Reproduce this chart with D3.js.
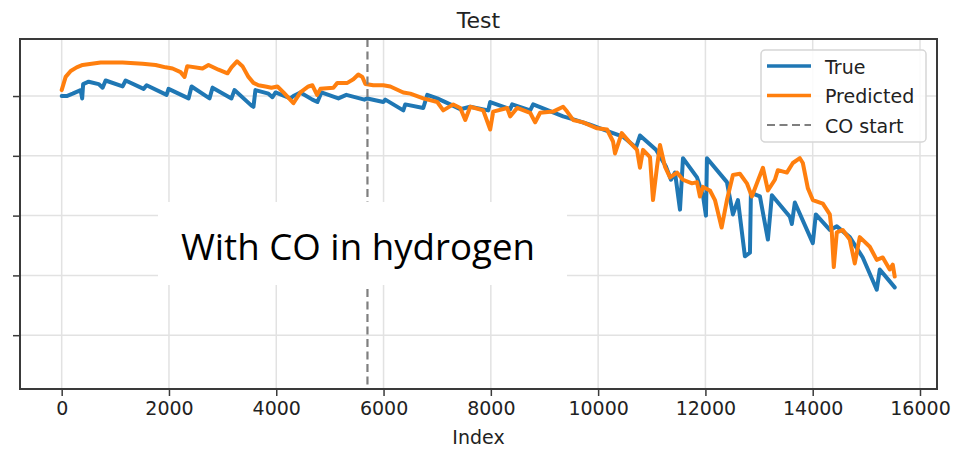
<!DOCTYPE html>
<html>
<head>
<meta charset="utf-8">
<script src="https://cdn.jsdelivr.net/npm/d3@7"></script>
<style>
  body { margin: 0; background: #fff; }
  svg { display: block; font-family: "DejaVu Sans", sans-serif; }
</style>
</head>
<body>
<svg id="chart" width="956" height="449"></svg>
<script>
// Series: [index, value]
const trueIndex = [0, 93, 205, 354, 382, 400, 503, 689, 763, 819, 1136, 1192, 1527, 1583, 1955, 1992, 2365, 2421, 2756, 2812,
  3165, 3221, 3538, 3575, 3612, 3854, 3929, 3985, 4264, 4320, 4450, 4674, 4767, 4841, 5158, 5307, 5642, 5698, 5996, 6033,
  6368, 6405, 6740, 6815, 7001, 7243, 7430, 7616, 7951, 7988, 8360, 8398, 8733, 8789, 9068, 9347, 9571, 9850, 10036, 10278,
  10464, 10707, 10780, 11079, 11265, 11358, 11433, 11526, 11582, 11843, 11954, 12010, 12029, 12401, 12513, 12606, 12736, 12830, 12848, 13016,
  13165, 13239, 13574, 13611, 13667, 14002, 14058, 14319, 14449, 14691, 14933, 15194, 15250, 15436, 15529];
const trueValue = [0.700, 0.700, 0.702, 0.705, 0.698, 0.710, 0.712, 0.710, 0.707, 0.713, 0.708, 0.713, 0.706, 0.709, 0.701, 0.706, 0.698, 0.708, 0.698, 0.707,
  0.698, 0.705, 0.692, 0.691, 0.705, 0.702, 0.699, 0.703, 0.698, 0.700, 0.703, 0.697, 0.695, 0.703, 0.698, 0.701, 0.697, 0.698, 0.695, 0.697,
  0.688, 0.693, 0.690, 0.701, 0.698, 0.693, 0.689, 0.691, 0.688, 0.695, 0.689, 0.693, 0.688, 0.693, 0.688, 0.683, 0.680, 0.676, 0.673, 0.669,
  0.666, 0.657, 0.667, 0.655, 0.641, 0.630, 0.636, 0.605, 0.648, 0.632, 0.617, 0.600, 0.648, 0.628, 0.601, 0.613, 0.566, 0.569, 0.619, 0.616,
  0.580, 0.617, 0.599, 0.593, 0.611, 0.577, 0.601, 0.588, 0.591, 0.582, 0.565, 0.538, 0.555, 0.545, 0.540];

const predIndex = [0, 74, 168, 279, 391, 726, 1136, 1508, 1750, 1937, 2067, 2216, 2290, 2340, 2625, 2737, 2923, 3091, 3165, 3268,
  3370, 3482, 3575, 3668, 3798, 3910, 4022, 4134, 4320, 4450, 4599, 4674, 4761, 4823, 5065, 5139, 5325, 5437, 5530, 5605,
  5661, 5809, 5996, 6126, 6368, 6498, 6740, 7001, 7113, 7299, 7430, 7523, 7616, 7858, 7988, 8044, 8305, 8360, 8491, 8733,
  8826, 8919, 9161, 9347, 9422, 9533, 9720, 9981, 10166, 10278, 10315, 10440, 10594, 10725, 10780, 10837, 10967, 11023, 11098, 11153,
  11246, 11340, 11470, 11582, 11750, 11843, 11898, 11954, 12085, 12178, 12302, 12401, 12513, 12643, 12773, 12866, 12960, 13072, 13165, 13295,
  13351, 13518, 13630, 13760, 13816, 13909, 14002, 14189, 14319, 14356, 14393, 14449, 14561, 14691, 14784, 14877, 15064, 15194, 15306, 15436,
  15492, 15529];
const predValue = [0.705, 0.716, 0.721, 0.724, 0.726, 0.728, 0.728, 0.727, 0.726, 0.724, 0.723, 0.720, 0.716, 0.725, 0.723, 0.726, 0.722, 0.719, 0.724, 0.729,
  0.725, 0.716, 0.711, 0.709, 0.708, 0.707, 0.708, 0.703, 0.694, 0.703, 0.708, 0.709, 0.701, 0.706, 0.707, 0.711, 0.711, 0.714, 0.718, 0.716,
  0.710, 0.709, 0.709, 0.708, 0.703, 0.702, 0.698, 0.695, 0.688, 0.693, 0.690, 0.680, 0.691, 0.688, 0.672, 0.687, 0.690, 0.683, 0.690, 0.686,
  0.678, 0.686, 0.687, 0.691, 0.687, 0.680, 0.678, 0.673, 0.672, 0.662, 0.652, 0.669, 0.661, 0.655, 0.640, 0.655, 0.649, 0.613, 0.641, 0.659,
  0.641, 0.632, 0.636, 0.630, 0.627, 0.628, 0.616, 0.624, 0.621, 0.613, 0.590, 0.613, 0.634, 0.635, 0.627, 0.616, 0.627, 0.640, 0.621, 0.630,
  0.638, 0.636, 0.644, 0.648, 0.644, 0.623, 0.613, 0.610, 0.601, 0.586, 0.557, 0.586, 0.588, 0.580, 0.560, 0.582, 0.574, 0.563, 0.565, 0.555,
  0.559, 0.549];

const xTicks = [0, 2000, 4000, 6000, 8000, 10000, 12000, 14000, 16000];
const yTicks = [0.50, 0.55, 0.60, 0.65, 0.70];
const coStart = 5700;
const legendLabels = ['True', 'Predicted', 'CO start'];

const svg = d3.select('#chart');
const padding = { top: 39, right: 19, bottom: 60, left: 20 };
const width = 956 - padding.left - padding.right;
const height = 449 - padding.top - padding.bottom;

const x = d3.scaleLinear().domain([-777, 16317]).range([0, width]);
const y = d3.scaleLinear().domain([0.455, 0.7477]).range([height, 0]);

const canvas = svg.append('g').attr('transform', `translate(${padding.left}, ${padding.top})`);

// Grid
canvas.append('g').selectAll('line').data(xTicks).join('line')
  .attr('x1', d => x(d)).attr('x2', d => x(d)).attr('y1', 0).attr('y2', height)
  .attr('stroke', '#e2e2e2').attr('stroke-width', 1.5);
canvas.append('g').selectAll('line').data(yTicks).join('line')
  .attr('y1', d => y(d)).attr('y2', d => y(d)).attr('x1', 0).attr('x2', width)
  .attr('stroke', '#e2e2e2').attr('stroke-width', 1.5);

// Lines
const line = d3.line().x(d => x(d[0])).y(d => y(d[1]));
const trueData = trueIndex.map((d, i) => [d, trueValue[i]]);
const predData = predIndex.map((d, i) => [d, predValue[i]]);

canvas.append('path').datum(trueData).attr('d', line)
  .attr('fill', 'none').attr('stroke', '#1f77b4').attr('stroke-width', 4)
  .attr('stroke-linejoin', 'round').attr('stroke-linecap', 'round');
canvas.append('path').datum(predData).attr('d', line)
  .attr('fill', 'none').attr('stroke', '#ff7f0e').attr('stroke-width', 4)
  .attr('stroke-linejoin', 'round').attr('stroke-linecap', 'round');

// CO start marker
canvas.append('line')
  .attr('x1', x(coStart)).attr('x2', x(coStart)).attr('y1', 0).attr('y2', height)
  .attr('stroke', '#7f7f7f').attr('stroke-width', 2.2).attr('stroke-dasharray', '8,4.5');

// Axes
const xAxis = canvas.append('g').attr('transform', `translate(0, ${height})`)
  .call(d3.axisBottom(x).tickValues(xTicks).tickSize(7).tickPadding(6).tickFormat(d3.format('d')));
const yAxis = canvas.append('g')
  .call(d3.axisLeft(y).tickValues(yTicks).tickSize(7).tickFormat(''));
[xAxis, yAxis].forEach(a => {
  a.select('.domain').remove();
  a.selectAll('line').attr('stroke', '#3a3a3a').attr('stroke-width', 1.5);
  a.selectAll('text').attr('font-size', 19).attr('fill', '#222').attr('font-family', '"DejaVu Sans", sans-serif');
});

// Frame
canvas.append('rect').attr('width', width).attr('height', height)
  .attr('fill', 'none').attr('stroke', '#3a3a3a').attr('stroke-width', 2);

// Title and axis label
svg.append('text').attr('x', padding.left + width / 2).attr('y', 28)
  .attr('text-anchor', 'middle').attr('font-size', 22).attr('fill', '#222').text('Test');
svg.append('text').attr('x', padding.left + width / 2).attr('y', 444)
  .attr('text-anchor', 'middle').attr('font-size', 19).attr('fill', '#222').text('Index');

// Legend
const legend = svg.append('g').attr('transform', 'translate(761, 50)');
legend.append('rect').attr('width', 165).attr('height', 92).attr('rx', 4)
  .attr('fill', '#fff').attr('fill-opacity', 0.85).attr('stroke', '#d6d6d6').attr('stroke-width', 1.5);
const legendStyle = [
  { color: '#1f77b4', dash: null },
  { color: '#ff7f0e', dash: null },
  { color: '#7f7f7f', dash: '8,4.5' }
];
legendLabels.forEach((label, i) => {
  const cy = 16 + i * 29.5;
  legend.append('line').attr('x1', 6).attr('x2', 50).attr('y1', cy).attr('y2', cy)
    .attr('stroke', legendStyle[i].color).attr('stroke-width', i === 2 ? 2.2 : 3.5)
    .attr('stroke-dasharray', legendStyle[i].dash);
  legend.append('text').attr('x', 64).attr('y', cy + 7.5)
    .attr('font-size', 19).attr('fill', '#222').text(label);
});

// Overlay annotation box
svg.append('rect').attr('x', 158).attr('y', 202).attr('width', 409).attr('height', 83).attr('fill', '#fff');
svg.append('text').attr('x', 181).attr('y', 260)
  .attr('font-family', '"Open Sans", Lato, sans-serif').attr('font-size', 36).attr('fill', '#000')
  .attr('textLength', 354).attr('lengthAdjust', 'spacingAndGlyphs')
  .text('With CO in hydrogen');
</script>
</body>
</html>
